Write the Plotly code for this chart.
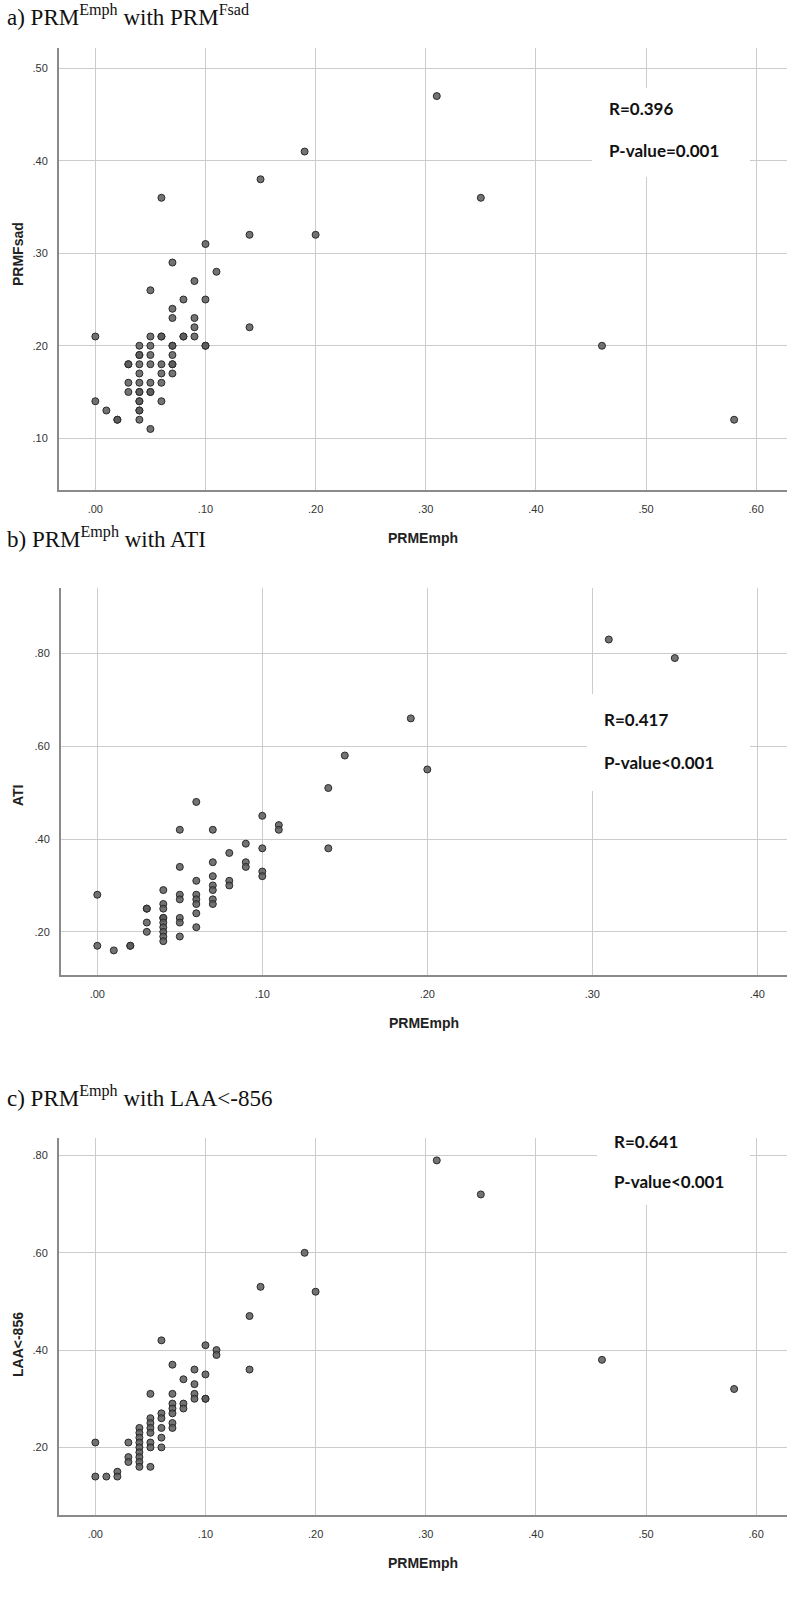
import plotly.graph_objects as go

# ---------------- data ----------------
a_x = [0.06, 0.15, 0.14, 0.10, 0.07, 0.11, 0.05, 0.09, 0.08, 0.10, 0.07, 0.07, 0.09, 0.09, 0.14,
       0.00, 0.05, 0.06, 0.06, 0.08, 0.08, 0.09, 0.04, 0.05, 0.07, 0.07, 0.10, 0.10, 0.04, 0.04,
       0.05, 0.07, 0.03, 0.03, 0.04, 0.05, 0.06, 0.07, 0.07, 0.04, 0.06, 0.07, 0.03, 0.04, 0.05,
       0.06, 0.03, 0.04, 0.04, 0.05, 0.05, 0.00, 0.04, 0.04, 0.06, 0.01, 0.04, 0.04, 0.02, 0.02,
       0.04, 0.05, 0.19, 0.31, 0.35, 0.20, 0.46, 0.58]
a_y = [0.36, 0.38, 0.32, 0.31, 0.29, 0.28, 0.26, 0.27, 0.25, 0.25, 0.24, 0.23, 0.23, 0.22, 0.22,
       0.21, 0.21, 0.21, 0.21, 0.21, 0.21, 0.21, 0.20, 0.20, 0.20, 0.20, 0.20, 0.20, 0.19, 0.19,
       0.19, 0.19, 0.18, 0.18, 0.18, 0.18, 0.18, 0.18, 0.18, 0.17, 0.17, 0.17, 0.16, 0.16, 0.16,
       0.16, 0.15, 0.15, 0.15, 0.15, 0.15, 0.14, 0.14, 0.14, 0.14, 0.13, 0.13, 0.13, 0.12, 0.12,
       0.12, 0.11, 0.41, 0.47, 0.36, 0.32, 0.20, 0.12]

b_x = [0.00, 0.00, 0.01, 0.02, 0.02, 0.03, 0.03, 0.03, 0.03, 0.04, 0.04, 0.04, 0.04, 0.04, 0.04,
       0.04, 0.04, 0.04, 0.04, 0.05, 0.05, 0.05, 0.05, 0.05, 0.05, 0.05, 0.06, 0.06, 0.06, 0.06,
       0.06, 0.06, 0.06, 0.07, 0.07, 0.07, 0.07, 0.07, 0.07, 0.07, 0.08, 0.08, 0.08, 0.09, 0.09,
       0.09, 0.10, 0.10, 0.10, 0.10, 0.11, 0.11, 0.14, 0.14, 0.15, 0.19, 0.20, 0.31, 0.35]
b_y = [0.28, 0.17, 0.16, 0.17, 0.17, 0.25, 0.25, 0.22, 0.20, 0.29, 0.26, 0.25, 0.23, 0.23, 0.22,
       0.21, 0.20, 0.19, 0.18, 0.42, 0.34, 0.28, 0.27, 0.23, 0.22, 0.19, 0.48, 0.31, 0.28, 0.27,
       0.26, 0.24, 0.21, 0.42, 0.35, 0.32, 0.30, 0.29, 0.27, 0.26, 0.37, 0.31, 0.30, 0.39, 0.35,
       0.34, 0.45, 0.38, 0.33, 0.32, 0.43, 0.42, 0.51, 0.38, 0.58, 0.66, 0.55, 0.83, 0.79]

c_x = [0.15, 0.14, 0.06, 0.10, 0.11, 0.11, 0.07, 0.09, 0.14, 0.10, 0.08, 0.09, 0.05, 0.07, 0.09,
       0.09, 0.10, 0.10, 0.07, 0.07, 0.07, 0.08, 0.08, 0.06, 0.06, 0.07, 0.07, 0.06, 0.06, 0.06,
       0.05, 0.05, 0.05, 0.05, 0.05, 0.05, 0.05, 0.04, 0.04, 0.04, 0.04, 0.04, 0.04, 0.04, 0.04,
       0.04, 0.03, 0.03, 0.03, 0.00, 0.00, 0.01, 0.02, 0.02, 0.19, 0.20, 0.31, 0.35, 0.46, 0.58]
c_y = [0.53, 0.47, 0.42, 0.41, 0.40, 0.39, 0.37, 0.36, 0.36, 0.35, 0.34, 0.33, 0.31, 0.31, 0.31,
       0.30, 0.30, 0.30, 0.29, 0.28, 0.27, 0.29, 0.28, 0.27, 0.26, 0.25, 0.24, 0.24, 0.22, 0.20,
       0.26, 0.25, 0.24, 0.23, 0.21, 0.20, 0.16, 0.24, 0.23, 0.22, 0.21, 0.20, 0.19, 0.18, 0.17,
       0.16, 0.21, 0.18, 0.17, 0.21, 0.14, 0.14, 0.15, 0.14, 0.60, 0.52, 0.79, 0.72, 0.38, 0.32]

x_ticks_wide = [0.0, 0.1, 0.2, 0.3, 0.4, 0.5, 0.6]
x_labels_wide = [".00", ".10", ".20", ".30", ".40", ".50", ".60"]
x_ticks_narrow = [0.0, 0.1, 0.2, 0.3, 0.4]
x_labels_narrow = [".00", ".10", ".20", ".30", ".40"]
a_yticks = [0.1, 0.2, 0.3, 0.4, 0.5]
a_ylabels = [".10", ".20", ".30", ".40", ".50"]
bc_yticks = [0.2, 0.4, 0.6, 0.8]
bc_ylabels = [".20", ".40", ".60", ".80"]

titles = ["a) PRM<sup>Emph</sup> with PRM<sup>Fsad</sup>",
          "b) PRM<sup>Emph</sup> with ATI",
          "c) PRM<sup>Emph</sup> with LAA&lt;-856"]
x_title = "PRMEmph"
y_titles = ["PRMFsad", "ATI", "LAA&lt;-856"]
stats = [("R=0.396", "P-value=0.001"),
         ("R=0.417", "P-value&lt;0.001"),
         ("R=0.641", "P-value&lt;0.001")]

# ---------------- layout helpers ----------------
W, H = 787, 1600


def px(x):
    return x / W


def py(y):
    return 1 - y / H


# panel geometry in pixels: (left, right, top, bottom)
panels = [
    dict(box=(59, 787, 48, 490), xr=[-0.033, 0.628], yr=[0.044, 0.522],
         xt=x_ticks_wide, xl=x_labels_wide, yt=a_yticks, yl=a_ylabels,
         title_y=15, ytitle_y=254, stat_box=(592, 750, 88, 177), stat_y=(109, 150)),
    dict(box=(61, 787, 588, 975), xr=[-0.022, 0.418], yr=[0.107, 0.941],
         xt=x_ticks_narrow, xl=x_labels_narrow, yt=bc_yticks, yl=bc_ylabels,
         title_y=537, ytitle_y=795, stat_box=(587, 750, 694, 791), stat_y=(720, 762)),
    dict(box=(59, 787, 1138, 1515), xr=[-0.033, 0.628], yr=[0.061, 0.836],
         xt=x_ticks_wide, xl=x_labels_wide, yt=bc_yticks, yl=bc_ylabels,
         title_y=1096, ytitle_y=1345, stat_box=(597, 750, 1117, 1205), stat_y=(1141, 1181)),
]
data = [(a_x, a_y), (b_x, b_y), (c_x, c_y)]

fig = go.Figure()
annotations = []
shapes = []
grid = "#cccccc"
axis_line = "#8a8a8a"
tick_font = dict(family="Liberation Sans, Arial, sans-serif", size=11, color="#333333")

for i, (p, (xs, ys)) in enumerate(zip(panels, data)):
    n = "" if i == 0 else str(i + 1)
    l, r, t, b = p["box"]
    fig.add_trace(go.Scatter(
        x=xs, y=ys, mode="markers", xaxis="x" + n, yaxis="y" + n,
        marker=dict(size=7, color="rgba(90,90,90,0.85)",
                    line=dict(color="#2a2a2a", width=1)),
        showlegend=False, hoverinfo="x+y"))
    fig.update_layout(**{
        "xaxis" + n: dict(domain=[px(l), px(r)], range=p["xr"], anchor="y" + n,
                          tickvals=p["xt"], ticktext=p["xl"], showgrid=True,
                          gridcolor=grid, gridwidth=1, zeroline=False,
                          showline=True, linecolor=axis_line, linewidth=2,
                          ticks="", tickfont=tick_font, ticklabelstandoff=8,
                          fixedrange=True),
        "yaxis" + n: dict(domain=[py(b), py(t)], range=p["yr"], anchor="x" + n,
                          tickvals=p["yt"], ticktext=p["yl"], showgrid=True,
                          gridcolor=grid, gridwidth=1, zeroline=False,
                          showline=True, linecolor=axis_line, linewidth=2,
                          ticks="", tickfont=tick_font, ticklabelstandoff=7,
                          fixedrange=True),
    })
    # panel title
    annotations.append(dict(
        text=titles[i], x=px(5), y=py(p["title_y"]), xref="paper", yref="paper",
        xanchor="left", yanchor="middle", showarrow=False,
        font=dict(family="Liberation Serif, Times New Roman, serif", size=23, color="#111111")))
    # x-axis title
    annotations.append(dict(
        text="<b>" + x_title + "</b>", x=px((l + r) / 2), y=py(b + 48),
        xref="paper", yref="paper", xanchor="center", yanchor="middle",
        showarrow=False, font=dict(family="Liberation Sans, Arial, sans-serif", size=14, color="#222222")))
    # y-axis title
    annotations.append(dict(
        text="<b>" + y_titles[i] + "</b>", x=px(18), y=py(p["ytitle_y"]),
        xref="paper", yref="paper", xanchor="center", yanchor="middle",
        textangle=-90, showarrow=False,
        font=dict(family="Liberation Sans, Arial, sans-serif", size=14, color="#222222")))
    # white statistic box
    sl, sr, st, sb = p["stat_box"]
    shapes.append(dict(type="rect", xref="paper", yref="paper",
                       x0=px(sl), x1=px(sr), y0=py(sb), y1=py(st),
                       fillcolor="white", line=dict(width=0), layer="above"))
    r_txt, p_txt = stats[i]
    for txt, yy in zip((r_txt, p_txt), p["stat_y"]):
        annotations.append(dict(
            text="<b>" + txt + "</b>", x=px(sl + 15), y=py(yy), xref="paper", yref="paper",
            xanchor="left", yanchor="middle", showarrow=False,
            font=dict(family="Lato, Open Sans, sans-serif", size=17, color="#111111")))

fig.update_layout(width=W, height=H, margin=dict(l=0, r=0, t=0, b=0),
                  paper_bgcolor="white", plot_bgcolor="white",
                  annotations=annotations, shapes=shapes)
fig.write_html("out.html",
               config={"displayModeBar": False},
               post_script="document.body.style.margin='0px';"
                           "document.body.style.padding='0px';")
